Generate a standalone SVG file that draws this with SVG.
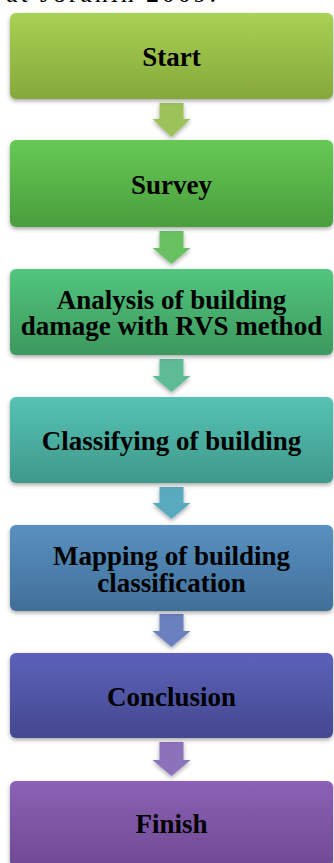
<svg xmlns="http://www.w3.org/2000/svg" width="334" height="863" viewBox="0 0 334 863">
<defs>
<filter id="sh" x="-10%" y="-10%" width="120%" height="130%">
<feDropShadow dx="0" dy="2" stdDeviation="2" flood-color="#000" flood-opacity="0.35"/>
</filter>
<linearGradient id="g1" x1="0" y1="0" x2="0" y2="1"><stop offset="0" stop-color="#a9d153"/><stop offset="1" stop-color="#86a83b"/></linearGradient>
<linearGradient id="g2" x1="0" y1="0" x2="0" y2="1"><stop offset="0" stop-color="#66c955"/><stop offset="1" stop-color="#4a9e3c"/></linearGradient>
<linearGradient id="g3" x1="0" y1="0" x2="0" y2="1"><stop offset="0" stop-color="#52c67e"/><stop offset="1" stop-color="#3c985d"/></linearGradient>
<linearGradient id="g4" x1="0" y1="0" x2="0" y2="1"><stop offset="0" stop-color="#55c3b4"/><stop offset="1" stop-color="#3f988b"/></linearGradient>
<linearGradient id="g5" x1="0" y1="0" x2="0" y2="1"><stop offset="0" stop-color="#5991c0"/><stop offset="1" stop-color="#416f99"/></linearGradient>
<linearGradient id="g6" x1="0" y1="0" x2="0" y2="1"><stop offset="0" stop-color="#5c62ba"/><stop offset="1" stop-color="#44488f"/></linearGradient>
<linearGradient id="g7" x1="0" y1="0" x2="0" y2="1"><stop offset="0" stop-color="#8b61b5"/><stop offset="1" stop-color="#6f4a93"/></linearGradient>
</defs>
<style>
.box{filter:url(#sh);}
.lbl{font-family:"Liberation Serif","Times New Roman",serif;font-weight:bold;font-size:27px;fill:#000;text-anchor:middle;}
.arr{filter:url(#sh);}
.cap{font-family:"Liberation Serif","Times New Roman",serif;font-size:26px;fill:#000;}
</style>
<rect width="334" height="863" fill="#fff"/>
<text class="cap" x="6" y="1.5" textLength="210">at Jorahin  2009.</text>

<g id="connectors">
<polygon class="arr" fill="#9cc25a" points="159.5,103 183.5,103 183.5,119 190.5,119 171.5,137 152.5,119 159.5,119"/>
<polygon class="arr" fill="#6ac162" points="159.5,231 183.5,231 183.5,248 190.5,248 171.5,264 152.5,248 159.5,248"/>
<polygon class="arr" fill="#5dbb96" points="159.5,359 183.5,359 183.5,376 190.5,376 171.5,392 152.5,376 159.5,376"/>
<polygon class="arr" fill="#5aaabf" points="159.5,487 183.5,487 183.5,503 190.5,503 171.5,519 152.5,503 159.5,503"/>
<polygon class="arr" fill="#6a80bf" points="159.5,614 183.5,614 183.5,631 190.5,631 171.5,647 152.5,631 159.5,631"/>
<polygon class="arr" fill="#8b72ba" points="159.5,742 183.5,742 183.5,760 190.5,760 171.5,776 152.5,760 159.5,760"/>
</g>

<g id="start">
<rect class="box" x="10" y="13" width="323" height="86" rx="6" fill="url(#g1)"/>
<text class="lbl" x="171.5" y="66">Start</text>
</g>
<g id="survey">
<rect class="box" x="10" y="140" width="323" height="87" rx="6" fill="url(#g2)"/>
<text class="lbl" x="171.5" y="194">Survey</text>
</g>
<g id="analysis">
<rect class="box" x="10" y="269" width="323" height="86" rx="6" fill="url(#g3)"/>
<text class="lbl"><tspan x="171.5" y="309">Analysis of building</tspan><tspan x="171.5" y="335">damage with RVS method</tspan></text>
</g>
<g id="classifying">
<rect class="box" x="10" y="397" width="323" height="86" rx="6" fill="url(#g4)"/>
<text class="lbl" x="171.5" y="450">Classifying of building</text>
</g>
<g id="mapping">
<rect class="box" x="10" y="525" width="323" height="86" rx="6" fill="url(#g5)"/>
<text class="lbl"><tspan x="171.5" y="565">Mapping of building</tspan><tspan x="171.5" y="592">classification</tspan></text>
</g>
<g id="conclusion">
<rect class="box" x="10" y="653" width="323" height="85" rx="6" fill="url(#g6)"/>
<text class="lbl" x="171.5" y="706">Conclusion</text>
</g>
<g id="finish">
<rect class="box" x="10" y="781" width="323" height="86" rx="6" fill="url(#g7)"/>
<text class="lbl" x="171.5" y="833">Finish</text>
</g>
</svg>
